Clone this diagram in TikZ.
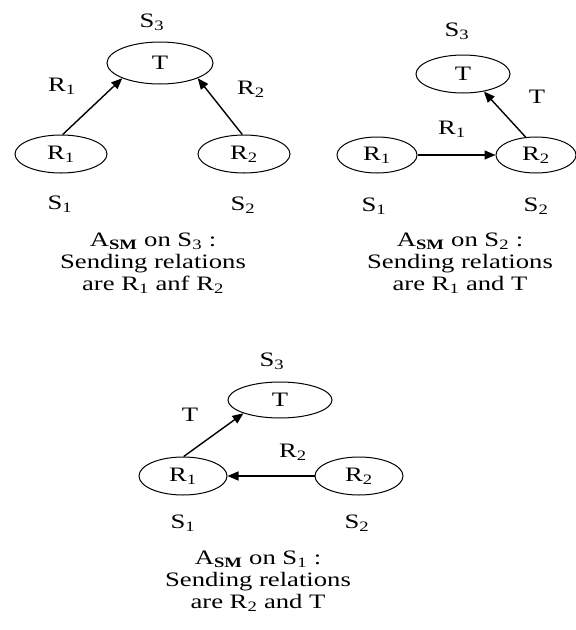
\documentclass[tikz,border=0pt]{standalone}
\usepackage{fontspec}
\setmainfont{Liberation Serif}[FakeStretch=1.3]
\usetikzlibrary{shapes.geometric,arrows.meta}
\tikzset{
  ell/.style={ellipse, draw, line width=1pt, inner sep=0pt},
  lbl/.style={inner sep=0pt},
  captxt/.style={inner sep=0pt, align=center},
  arr/.style={line width=1.4pt, -{Triangle[length=11pt,width=9pt]}},
  every node/.style={font=\fontsize{20.5}{22}\selectfont}
}
\begin{document}
\begin{tikzpicture}[x=1pt,y=-1pt]
\useasboundingbox (0,0) rectangle (576,630);
% ---------- panel 1 ----------
\node[ell, minimum width=106pt, minimum height=42pt] (T1) at (160,63) {T};
\node[ell, minimum width=92pt, minimum height=38pt] (R1a) at (61,154) {R\textsubscript{1}};
\node[ell, minimum width=92pt, minimum height=38pt] (R2a) at (244,154) {R\textsubscript{2}};
\draw[arr] (R1a.85) -- (T1.202);
\draw[arr] (R2a.95) -- (T1.338);
\node[lbl] (s3a) at (152,22) {S\textsubscript{3}};
\node[lbl] (r1la) at (62,86) {R\textsubscript{1}};
\node[lbl] (r2la) at (251,89) {R\textsubscript{2}};
\node[lbl] (s1a) at (60,204) {S\textsubscript{1}};
\node[lbl] (s2a) at (243,205) {S\textsubscript{2}};
\node[captxt] (capa) at (153,263) {A\textsubscript{\textbf{SM}} on S\textsubscript{3} :\\Sending relations\\are R\textsubscript{1} anf R\textsubscript{2}};
% ---------- panel 2 ----------
\node[ell, minimum width=94pt, minimum height=38pt] (T2) at (463,74) {T};
\node[ell, minimum width=80pt, minimum height=36pt] (R1b) at (377,155) {R\textsubscript{1}};
\node[ell, minimum width=80pt, minimum height=36pt] (R2b) at (536,155) {R\textsubscript{2}};
\draw[arr] (R1b.east) -- (R2b.west);
\draw[arr] (R2b.120) -- (T2.320);
\node[lbl] (s3b) at (457,31) {S\textsubscript{3}};
\node[lbl] (r1lb) at (452,129) {R\textsubscript{1}};
\node[lbl] (tlb) at (537,97) {T};
\node[lbl] (s1b) at (374,206) {S\textsubscript{1}};
\node[lbl] (s2b) at (536,206) {S\textsubscript{2}};
\node[captxt] (capb) at (460,263) {A\textsubscript{\textbf{SM}} on S\textsubscript{2} :\\Sending relations\\are R\textsubscript{1} and T};
% ---------- panel 3 ----------
\node[ell, minimum width=104pt, minimum height=36pt] (T3) at (280,400) {T};
\node[ell, minimum width=88pt, minimum height=38pt] (R1c) at (183,476) {R\textsubscript{1}};
\node[ell, minimum width=88pt, minimum height=38pt] (R2c) at (359,476) {R\textsubscript{2}};
\draw[arr] (R2c.west) -- (R1c.east);
\draw[arr] (R1c.88) -- (T3.200);
\node[lbl] (s3c) at (272,361) {S\textsubscript{3}};
\node[lbl] (tlc) at (190,415) {T};
\node[lbl] (r2lc) at (293,452) {R\textsubscript{2}};
\node[lbl] (s1c) at (183,523) {S\textsubscript{1}};
\node[lbl] (s2c) at (357,523) {S\textsubscript{2}};
\node[captxt] (capc) at (258,581) {A\textsubscript{\textbf{SM}} on S\textsubscript{1} :\\Sending relations\\are R\textsubscript{2} and T};
\end{tikzpicture}
\end{document}
